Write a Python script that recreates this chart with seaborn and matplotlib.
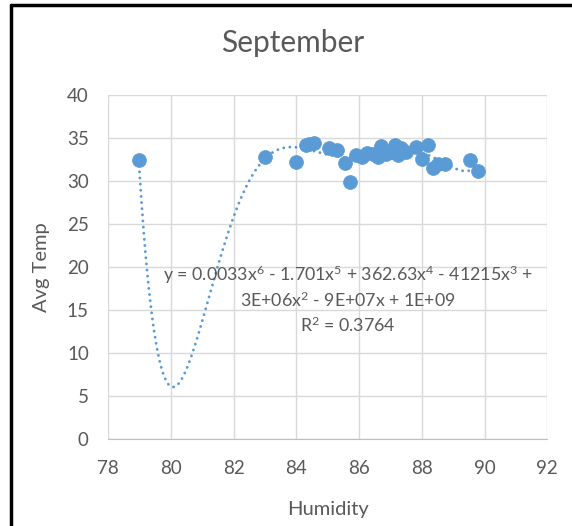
import numpy as np
import pandas as pd
import matplotlib
matplotlib.use("Agg")
import matplotlib.pyplot as plt
import seaborn as sns

# Data (30 days, two overlapping near 84.4)
humidity = [78.97, 83.0, 84.0, 84.3, 84.4, 84.55, 85.05, 85.3, 85.55, 85.72,
            85.9, 86.1, 86.25, 86.45, 86.6, 86.7, 86.85, 87.0, 87.15, 87.25,
            87.35, 87.5, 87.8, 88.0, 88.2, 88.35, 88.5, 88.75, 89.55, 89.8]
avg_temp = [32.5, 32.8, 32.2, 34.2, 34.3, 34.4, 33.8, 33.6, 32.1, 29.85,
            33.0, 32.8, 33.3, 33.2, 32.8, 34.1, 33.2, 33.4, 34.2, 33.0,
            33.8, 33.4, 34.0, 32.6, 34.2, 31.5, 32.0, 32.0, 32.4, 31.2]
x_ticks = [78, 80, 82, 84, 86, 88, 90, 92]
y_ticks = [0, 5, 10, 15, 20, 25, 30, 35, 40]
equation = ("y = 0.0033x$^6$ - 1.701x$^5$ + 362.63x$^4$ - 41215x$^3$ +\n"
            "3E+06x$^2$ - 9E+07x + 1E+09\nR$^2$ = 0.3764")

data = pd.DataFrame({"Humidity": humidity, "Avg Temp": avg_temp})

sns.set_style("white")
plt.rcParams['font.family'] = ['Lato', 'DejaVu Sans']
plt.rcParams['mathtext.fontset'] = 'custom'
plt.rcParams['mathtext.rm'] = 'Lato'
plt.rcParams['mathtext.it'] = 'Lato'
plt.rcParams['mathtext.default'] = 'rm'

grey = "#595959"
blue = "#5B9BD5"

fig = plt.figure(figsize=(5.72, 5.26), dpi=100)
ax = fig.add_axes([0.1893, 0.1648, 0.7675, 0.6546])

# 6th order polynomial trendline
poly = np.polynomial.Polynomial.fit(data["Humidity"], data["Avg Temp"], 6)
xs = np.linspace(min(humidity), max(humidity), 400)
ax.plot(xs, poly(xs), color=blue, linestyle=(0, (0.01, 2.1)), linewidth=2.1,
        dash_capstyle="round", zorder=2)

sns.scatterplot(data=data, x="Humidity", y="Avg Temp", ax=ax, color=blue,
                s=100, edgecolor=blue, linewidth=0.5, zorder=3)

ax.set_xlim(78, 92)
ax.set_ylim(0, 40)
ax.set_xticks(x_ticks)
ax.set_yticks(y_ticks)
ax.grid(True, color="#D9D9D9", linewidth=1)
ax.set_axisbelow(True)
for side in ["top", "right", "left"]:
    ax.spines[side].set_visible(False)
ax.spines["bottom"].set_color("#BFBFBF")
ax.tick_params(axis="both", length=0, labelsize=13.5, labelcolor=grey)
ax.tick_params(axis="x", pad=15)
ax.tick_params(axis="y", pad=14)

ax.set_xlabel("Humidity", fontsize=14.5, color=grey, labelpad=17)
ax.set_ylabel("Avg Temp", fontsize=14.5, color=grey, labelpad=12)
fig.text(0.512, 0.918, "September", fontsize=21.5, color=grey, ha="center", va="center")

ax.text(85.65, 16.3, equation, fontsize=12.8, color=grey, ha="center", va="center",
        linespacing=1.3)

# black frame on left and top
fig.add_artist(plt.Line2D([0.02, 0.02], [0, 0.99], color="black", linewidth=2.5,
                          transform=fig.transFigure))
fig.add_artist(plt.Line2D([0.019, 1], [0.99, 0.99], color="black", linewidth=2.5,
                          transform=fig.transFigure))

fig.savefig("out.png", dpi=100)
